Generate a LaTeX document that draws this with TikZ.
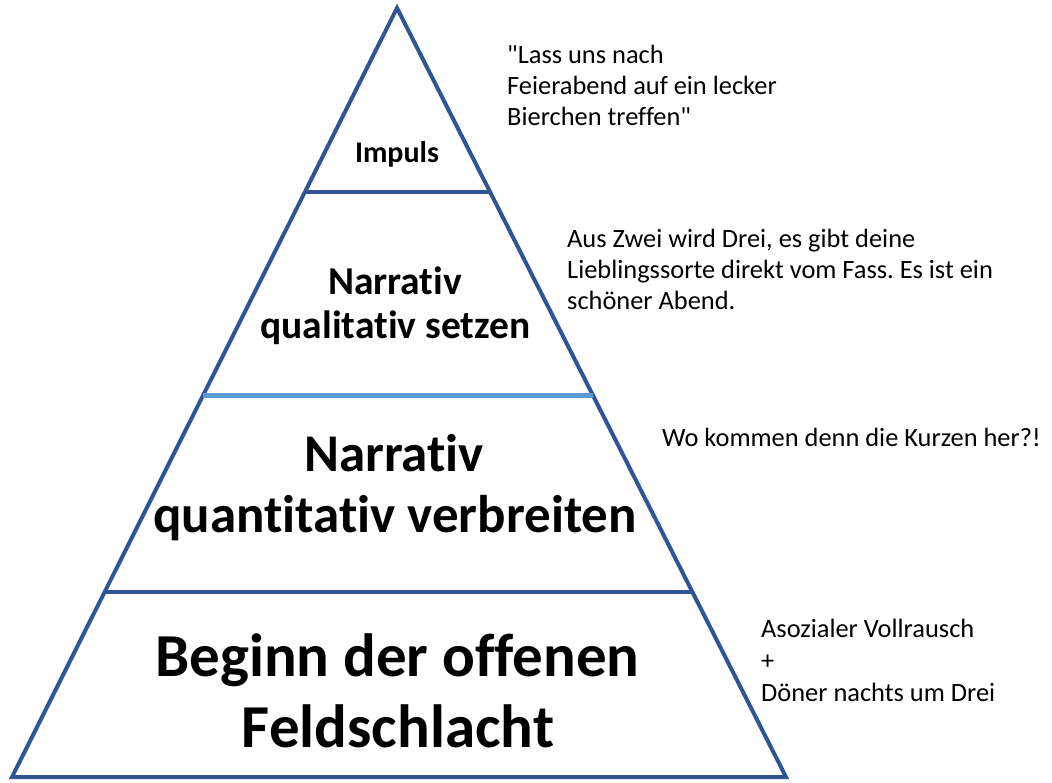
\documentclass[tikz,border=0pt]{standalone}
\usepackage{fontspec}
\setmainfont{Carlito}[Ligatures={NoCommon,TeXReset}]
\usetikzlibrary{calc}
\definecolor{pyrblue}{RGB}{47,85,151}
\definecolor{pyrlight}{RGB}{91,155,213}
\frenchspacing
\begin{document}
\begin{tikzpicture}[x=1pt,y=-1pt,
  edge/.style={draw=pyrblue,line width=4pt},
  midedge/.style={draw=pyrlight,line width=5pt},
  lvl/.style={anchor=base,inner sep=0pt},
  note/.style={anchor=base west,inner sep=0pt,font=\fontsize{26.4}{31}\selectfont}]
\useasboundingbox (0,0) rectangle (1052,782);
% pyramid outline
\coordinate (apex) at (397,8);
\coordinate (bl) at (12,777);
\coordinate (br) at (786,777);
\draw[edge,line join=miter] (apex) -- (bl) -- (br) -- cycle;
% separators
\coordinate (s1l) at ($(apex)!0.2390!(bl)$);
\coordinate (s1r) at ($(apex)!0.2390!(br)$);
\coordinate (s2l) at ($(apex)!0.5040!(bl)$);
\coordinate (s2r) at ($(apex)!0.5040!(br)$);
\coordinate (s3l) at ($(apex)!0.7597!(bl)$);
\coordinate (s3r) at ($(apex)!0.7597!(br)$);
\draw[edge] (s1l) -- (s1r);
\draw[edge] (s3l) -- (s3r);
\draw[midedge] (s2l) -- (s2r);
% level labels
\node[lvl,font={\fontsize{30}{35}\selectfont\bfseries}] (impuls) at (397,162) {Impuls};
\node[lvl,font={\fontsize{39.5}{47}\selectfont\bfseries}] (qual1) at (395,294) {Narrativ};
\node[lvl,font={\fontsize{39.5}{47}\selectfont\bfseries}] (qual2) at (395.5,338) {qualitativ setzen};
\node[lvl,font={\fontsize{53}{62}\selectfont\bfseries}] (quant1) at (394,471) {Narrativ};
\node[lvl,font={\fontsize{53}{62}\selectfont\bfseries}] (quant2) at (395,532) {quantitativ verbreiten};
\node[lvl,font={\fontsize{61}{73}\selectfont\bfseries}] (feld1) at (397.5,676) {Beginn der offenen};
\node[lvl,font={\fontsize{61}{73}\selectfont\bfseries}] (feld2) at (398,747) {Feldschlacht};
% side notes
\node[note] (n1a) at (507,63) {\symbol{34}Lass uns nach};
\node[note] (n1b) at (507,94) {Feierabend auf ein lecker};
\node[note] (n1c) at (507,125) {Bierchen treffen\symbol{34}};
\node[note] (n2a) at (567,247) {Aus Zwei wird Drei, es gibt deine};
\node[note] (n2b) at (567,278) {Lieblingssorte direkt vom Fass. Es ist ein};
\node[note] (n2c) at (567,309) {schöner Abend.};
\node[note] (n3) at (662,446) {Wo kommen denn die Kurzen her?!};
\node[note] (n4a) at (761,637) {Asozialer Vollrausch};
\node[note] (n4b) at (761,669) {+};
\node[note] (n4c) at (761,701) {Döner nachts um Drei};
\end{tikzpicture}
\end{document}
